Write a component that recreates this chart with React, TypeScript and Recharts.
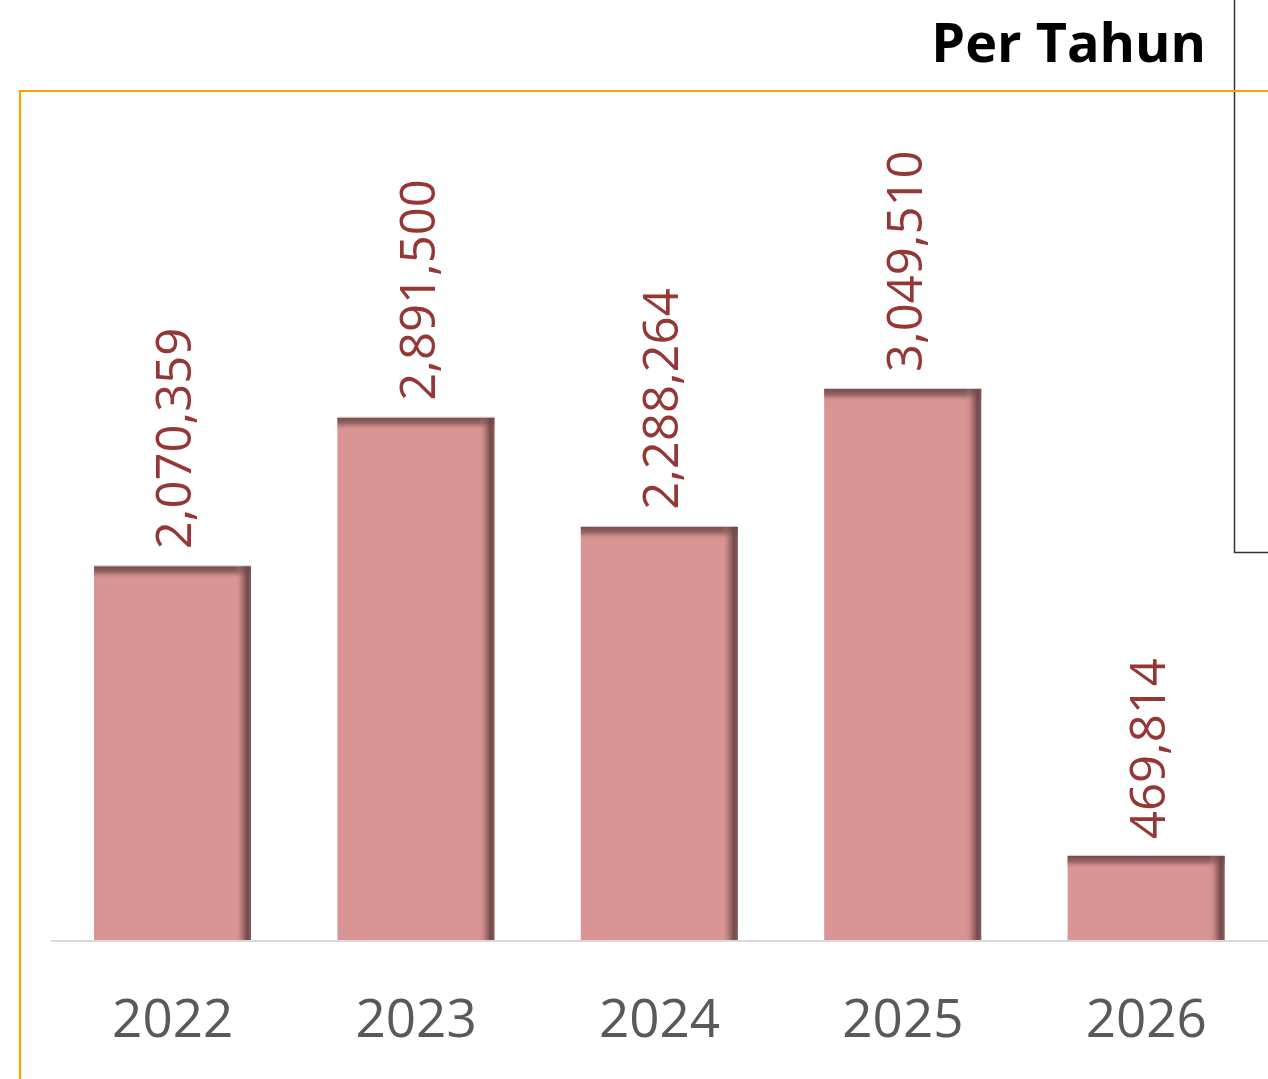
import React from "react";
import { BarChart, Bar, XAxis, YAxis, LabelList } from "recharts";

const years = ["2022", "2023", "2024", "2025", "2026"];
const totals = [2070359, 2891500, 2288264, 3049510, 469814];
const title = "Per Tahun";

const data = years.map((y, i) => ({ year: y, value: totals[i] }));

const W = 1268;
const H = 1079;
const FONT = "'Open Sans', 'Noto Sans', sans-serif";

const fmt = (v: number) => v.toLocaleString("en-US");

const BarShape = (props: any) => {
  const { x, y, width, height } = props;
  if (!height || height <= 0) return null;
  return (
    <g>
      <rect x={x} y={y} width={width} height={height} fill="#D99594" />
      <rect x={x} y={y} width={width} height={Math.min(13, height)} fill="url(#topShade)" />
      <rect x={x + width - 16} y={y} width={16} height={height} fill="url(#rightShade)" />
      <line x1={x} x2={x + width} y1={y - 0.5} y2={y - 0.5} stroke="#d0d0d0" strokeWidth={1} />
    </g>
  );
};

const ValueLabel = (props: any) => {
  const { x, y, width, value } = props;
  const cx = x + width / 2;
  const ly = y - 17;
  return (
    <text
      x={cx}
      y={ly + 19}
      transform={`rotate(-90, ${cx}, ${ly})`}
      textAnchor="start"
      fill="#953735"
      fontSize={49}
      fontFamily={FONT}
    >
      {fmt(value)}
    </text>
  );
};

const YearTick = (props: any) => {
  const { x, y, payload } = props;
  return (
    <text x={x} y={y} dy={88} textAnchor="middle" fill="#595959" fontSize={53} fontFamily={FONT}>
      {payload.value}
    </text>
  );
};

export default function App() {
  return (
    <div style={{ position: "absolute", left: 0, top: 0, width: W, height: H, background: "#fff" }}>
      <div style={{ position: "absolute", left: 0, top: 0 }}>
        <BarChart
          width={W}
          height={H}
          data={data}
          margin={{ top: 217, right: 0, bottom: 0, left: 51 }}
          barSize={157}
        >
          <defs>
            <linearGradient id="topShade" x1="0" y1="0" x2="0" y2="1">
              <stop offset="0%" stopColor="#6e4646" stopOpacity={0.95} />
              <stop offset="45%" stopColor="#7f5252" stopOpacity={0.7} />
              <stop offset="100%" stopColor="#D99594" stopOpacity={0} />
            </linearGradient>
            <linearGradient id="rightShade" x1="0" y1="0" x2="1" y2="0">
              <stop offset="0%" stopColor="#D99594" stopOpacity={0} />
              <stop offset="45%" stopColor="#8a5a5a" stopOpacity={0.55} />
              <stop offset="75%" stopColor="#6e4646" stopOpacity={0.95} />
              <stop offset="100%" stopColor="#7a5050" stopOpacity={0.85} />
            </linearGradient>
          </defs>
          <XAxis
            dataKey="year"
            height={138}
            axisLine={{ stroke: "#d9d9d9", strokeWidth: 2 }}
            tickLine={false}
            tick={<YearTick />}
            interval={0}
          />
          <YAxis hide domain={[0, 4000000]} />
          <Bar dataKey="value" shape={<BarShape />} isAnimationActive={false}>
            <LabelList dataKey="value" content={<ValueLabel />} />
          </Bar>
        </BarChart>
      </div>
      <svg
        width={W}
        height={H}
        style={{ position: "absolute", left: 0, top: 0, pointerEvents: "none" }}
      >
        <line x1={1234.5} x2={1234.5} y1={0} y2={553} stroke="#333" strokeWidth={1.5} />
        <line x1={1234.5} x2={W} y1={552.5} y2={552.5} stroke="#333" strokeWidth={1.5} />
        <line x1={20} x2={W} y1={91} y2={91} stroke="#FFA000" strokeWidth={2.2} />
        <line x1={20} x2={20} y1={90} y2={H} stroke="#FFA000" strokeWidth={2.2} />
        <text
          x={1206}
          y={62}
          textAnchor="end"
          fontSize={54}
          fontWeight="bold"
          fontFamily={FONT}
          fill="#000"
        >
          {title}
        </text>
      </svg>
    </div>
  );
}
